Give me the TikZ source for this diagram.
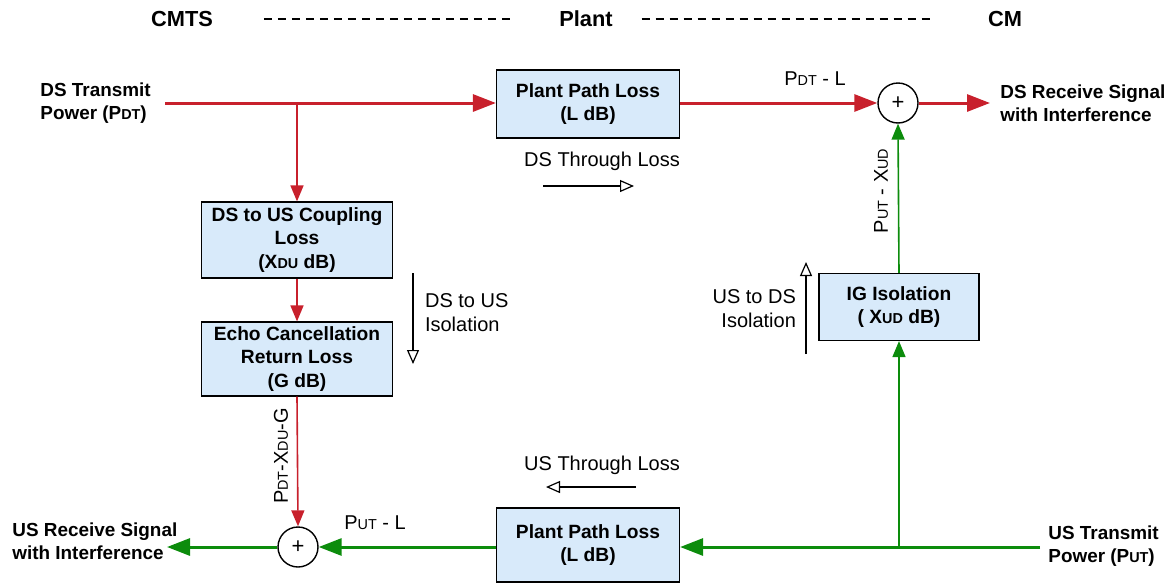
\documentclass[tikz,border=0pt]{standalone}
\usepackage{fontspec}
\setmainfont{Liberation Sans}
\usetikzlibrary{arrows.meta}
\definecolor{dsred}{RGB}{200,32,44}
\definecolor{usgreen}{RGB}{12,140,12}
\definecolor{boxblue}{RGB}{216,234,250}
\newcommand{\sml}[1]{{\fontsize{7.2}{7}\selectfont #1}}
\begin{document}
\begin{tikzpicture}[x=0.5pt, y=-0.5pt,
  blk/.style={draw, line width=0.6pt, fill=boxblue, align=center, inner sep=0pt,
              font=\fontsize{9.6}{11.7}\selectfont\bfseries},
  sum/.style={circle, draw, line width=0.7pt, fill=white, minimum size=20pt, inner sep=0pt,
              font=\fontsize{11}{12}\selectfont},
  lbl/.style={font=\fontsize{9.45}{11.5}\selectfont\bfseries, align=left, inner sep=0pt},
  hdr/.style={font=\fontsize{10.9}{12}\selectfont\bfseries},
  note/.style={font=\fontsize{10}{12}\selectfont, align=left},
  hdash/.style={line width=0.7pt, dash pattern=on 4pt off 3pt},
  tip/.style={-{Triangle[length=8pt,width=6.5pt]}},
  bigtip/.style={-{Triangle[length=11.5pt,width=8.5pt]}},
  dsmain/.style={bigtip, dsred, line width=1.5pt},
  dsthin/.style={tip, dsred, line width=0.8pt},
  usmain/.style={bigtip, usgreen, line width=1.5pt},
  usthin/.style={tip, usgreen, line width=0.8pt},
  dirarr/.style={line width=0.6pt, -{Triangle[open,length=7pt,width=6pt]}}
]
\useasboundingbox (0,0) rectangle (1174,584);

% header
\node[hdr] (cmts) at (182,19) {CMTS};
\node[hdr] (plant) at (586,19) {Plant};
\node[hdr] (cm) at (1005,19) {CM};
\draw[hdash] (cmts.east) ++(44,0) coordinate (d1a) -- (510,19) coordinate (d1b);
\draw[hdash] (plant.east) ++(22,0) coordinate (d2a) -- (930,19) coordinate (d2b);

% blocks
\node[blk, minimum width=91.5pt, minimum height=34pt] (ppds) at (588,104)
  {Plant Path Loss\\(L dB)};
\node[blk, minimum width=95.5pt, minimum height=38pt] (cpl) at (297,240)
  {DS to US Coupling\\Loss\\(X\sml{DU} dB)};
\node[blk, minimum width=95.5pt, minimum height=37pt] (ech) at (297,359)
  {Echo Cancellation\\Return Loss\\(G dB)};
\node[blk, minimum width=80pt, minimum height=33.5pt] (ig) at (899,307)
  {IG Isolation\\( X\sml{UD} dB)};
\node[blk, minimum width=91.5pt, minimum height=37pt] (ppus) at (588,545)
  {Plant Path Loss\\(L dB)};

\node[sum] (sumds) at (898,103) {+};
\node[sum] (sumus) at (298,547) {+};

% end labels
\node[lbl, anchor=west] (dstx) at (40,103) {DS Transmit\\Power (P\sml{DT})};
\node[lbl, anchor=west] (dsrx) at (1000,103) {DS Receive Signal\\with Interference};
\node[lbl, anchor=west] (usrx) at (12,541) {US Receive Signal\\with Interference};
\node[lbl, anchor=west] (ustx) at (1048,546) {US Transmit\\Power (P\sml{UT})};

\coordinate (dsin) at (165,103);
\coordinate (dsbr) at (297,103);
\coordinate (dsout) at (990,103);
\coordinate (usin) at (1040,547);
\coordinate (usbr) at (899,547);
\coordinate (usout) at (167,547);

% downstream (red)
\draw[dsmain] (dsin) -- (ppds.west |- dsin);
\draw[dsmain] (ppds.east |- dsin) -- (sumds.west);
\draw[dsmain] (sumds.east) -- (dsout);
\draw[dsthin] (dsbr) -- (cpl.north);
\draw[dsthin] (cpl.south) -- (ech.north);
\draw[dsthin] (ech.south) -- (sumus.north);

% upstream (green)
\draw[usmain] (usin) -- (ppus.east |- usin);
\draw[usmain] (ppus.west |- usin) -- (sumus.east);
\draw[usmain] (sumus.west) -- (usout);
\draw[usthin] (usbr) -- (ig.south);
\draw[usthin] (ig.north) -- (sumds.south);

% signal labels
\node[note] (lpdl) at (815,79) {P\sml{DT} - L};
\node[note] (lpul) at (375,523) {P\sml{UT} - L};
\node[note, rotate=90] (lpxg) at (281,456) {P\sml{DT}-X\sml{DU}-G};
\node[note, rotate=90] (lpxu) at (881,191) {P\sml{UT} - X\sml{UD}};

% direction notes
\node[note] (dstl) at (602,161) {DS Through Loss};
\coordinate (dsta) at (543,186);
\coordinate (dstb) at (634,186);
\draw[dirarr] (dsta) -- (dstb);
\node[note] (ustl) at (602,465) {US Through Loss};
\coordinate (usta) at (636,487);
\coordinate (ustb) at (546,487);
\draw[dirarr] (usta) -- (ustb);
\coordinate (duia) at (413,273);
\coordinate (duib) at (413,364);
\draw[dirarr] (duia) -- (duib);
\node[note, anchor=west] (duil) at (418,313) {DS to US\\Isolation};
\coordinate (udia) at (806,354);
\coordinate (udib) at (806,262);
\draw[dirarr] (udia) -- (udib);
\node[note, anchor=east, align=right] (udil) at (803,309) {US to DS\\Isolation};
\end{tikzpicture}
\end{document}
